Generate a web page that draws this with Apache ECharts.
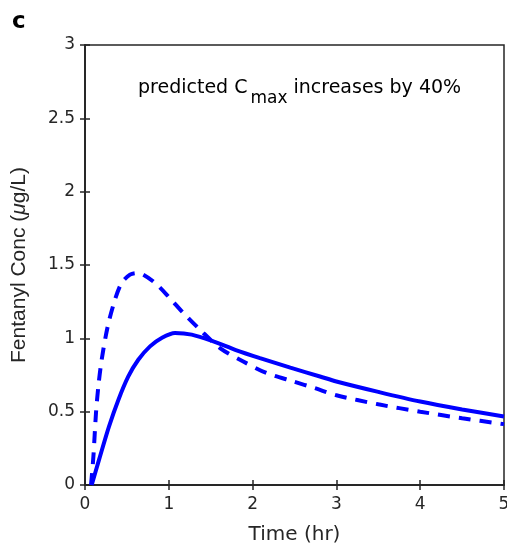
<!DOCTYPE html>
<html><head><meta charset="utf-8">
<script src="https://cdn.jsdelivr.net/npm/echarts@6/dist/echarts.min.js"></script>
<style>html,body{margin:0;padding:0;background:#fff}#c{width:507px;height:552px}</style>
</head><body><div id="c"></div>
<script>
// Time (hr) and concentration (µg/L)
var timeSolid = [0.08, 0.167, 0.286, 0.398, 0.517, 0.636, 0.776, 0.915, 1.074, 1.273, 1.531, 1.8, 2.088, 2.45, 2.804, 3, 3.5, 4, 4.5, 5];
var concSolid = [0, 0.171, 0.398, 0.58, 0.74, 0.854, 0.945, 1.002, 1.036, 1.025, 0.979, 0.92, 0.865, 0.80, 0.74, 0.706, 0.635, 0.569, 0.515, 0.467];
var timeDashed = [0.072, 0.1, 0.131, 0.159, 0.199, 0.271, 0.358, 0.438, 0.537, 0.62, 0.696, 0.835, 0.994, 1.173, 1.372, 1.611, 1.889, 2.168, 2.486, 2.745, 3, 3.5, 4, 4.5, 5];
var concDashed = [0.0, 0.193, 0.49, 0.671, 0.854, 1.081, 1.264, 1.378, 1.434, 1.445, 1.434, 1.378, 1.286, 1.173, 1.059, 0.934, 0.842, 0.763, 0.706, 0.66, 0.612, 0.55, 0.5, 0.455, 0.415];
var xTicks = [0, 1, 2, 3, 4, 5];
var yTicks = [0, 0.5, 1, 1.5, 2, 2.5, 3];

function pairs(t, v) { return t.map(function (x, i) { return [x, v[i]]; }); }

var font = '"DejaVu Sans", sans-serif';
var fontA = '"Liberation Sans", Arial, sans-serif';
var txt = '#262626';
var chart = echarts.init(document.getElementById('c'));
chart.setOption({
  animation: false,
  grid: { left: 85, right: 3, top: 45, bottom: 67, containLabel: false, outerBoundsMode: 'none',
    show: true, borderColor: txt, borderWidth: 1.5, backgroundColor: '#fff' },
  xAxis: [{
    type: 'value', min: 0, max: 5, interval: 1,
    axisLine: { show: true, lineStyle: { color: txt, width: 1.5 } },
    axisTick: { show: true, inside: true, length: 5, lineStyle: { color: txt, width: 1.5 } },
    axisLabel: { color: txt, fontSize: 17, fontFamily: font, margin: 11, formatter: function (v) { return xTicks.indexOf(v) >= 0 ? String(v) : ''; } },
    splitLine: { show: false },
    name: 'Time (hr)', nameLocation: 'middle', nameGap: 40,
    nameTextStyle: { color: txt, fontSize: 20, fontFamily: font }
  }, {
    type: 'value', min: 0, max: 5, interval: 1, position: 'top',
    axisLine: { show: true, lineStyle: { color: txt, width: 1.5 } },
    axisTick: { show: true, inside: true, length: 5, lineStyle: { color: txt, width: 1.5 } },
    axisLabel: { show: false }, splitLine: { show: false }
  }],
  yAxis: [{
    type: 'value', min: 0, max: 3, interval: 0.5,
    axisLine: { show: true, lineStyle: { color: txt, width: 1.5 } },
    axisTick: { show: true, inside: true, length: 5, lineStyle: { color: txt, width: 1.5 } },
    axisLabel: { color: txt, fontSize: 17, fontFamily: font, margin: 10, formatter: function (v) { return yTicks.indexOf(v) >= 0 ? String(v) : ''; } },
    splitLine: { show: false },
    name: '{n|Fentanyl Conc (}{m|μ}{n|g/L)}', nameLocation: 'middle', nameGap: 55,
    nameTextStyle: { color: txt, fontSize: 21, fontFamily: fontA,
      rich: { n: { fontSize: 21, fontFamily: fontA, color: txt }, m: { fontSize: 21, fontFamily: fontA, fontStyle: 'italic', color: txt } } }
  }, {
    type: 'value', min: 0, max: 3, interval: 0.5, position: 'right',
    axisLine: { show: true, lineStyle: { color: txt, width: 1.5 } },
    axisTick: { show: true, inside: true, length: 5, lineStyle: { color: txt, width: 1.5 } },
    axisLabel: { show: false }, splitLine: { show: false }
  }],
  series: [{
    type: 'line', data: pairs(timeSolid, concSolid), smooth: 0.3, symbol: 'none',
    lineStyle: { color: '#0000ff', width: 4 }, clip: true
  }, {
    type: 'line', data: pairs(timeDashed, concDashed), smooth: 0.3, symbol: 'none',
    lineStyle: { color: '#0000ff', width: 4, type: [12, 9] }, clip: true
  }],
  graphic: [{
    type: 'text', left: 12, top: 11,
    style: { text: 'c', fill: '#000', font: 'bold 23px ' + font }
  }, {
    type: 'text', left: 138, top: 79,
    style: {
      text: '{a|predicted C}{s|max}{a| increases by 40%}',
      rich: {
        a: { fontSize: 19, fontFamily: font, fill: '#000', verticalAlign: 'top' },
        s: { fontSize: 17, fontFamily: font, fill: '#000', padding: [11, 0, 0, 3], verticalAlign: 'top' }
      }
    }
  }]
});
</script></body></html>
